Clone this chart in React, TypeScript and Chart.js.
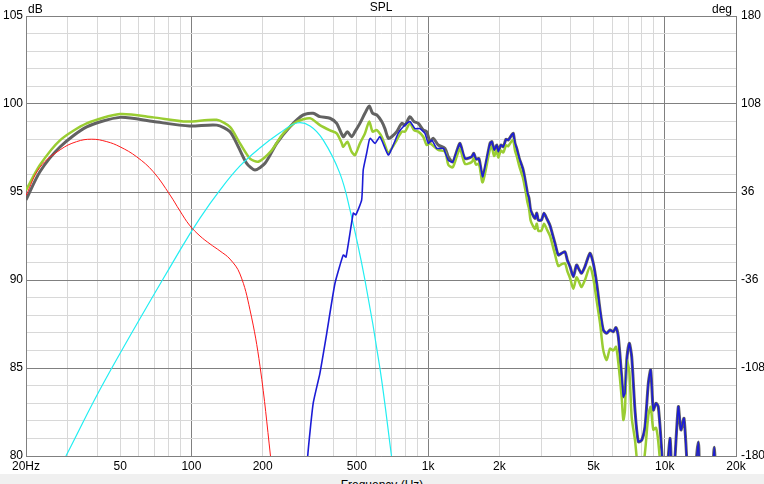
import React, { useEffect, useRef } from "react";
import { Chart, registerables } from "chart.js";

Chart.register(...registerables);

// ---- axis ticks ----
const xTickValues = [20, 30, 40, 50, 60, 70, 80, 90, 100, 200, 300, 400, 500, 600, 700, 800, 900, 1000, 2000, 3000, 4000, 5000, 6000, 7000, 8000, 9000, 10000, 20000];
const xLabelMap: Record<number, string> = { 20: "20Hz", 50: "50", 100: "100", 200: "200", 500: "500", 1000: "1k", 2000: "2k", 5000: "5k", 10000: "10k", 20000: "20k" };
const xMajor = [20, 100, 1000, 10000, 20000];
const yTickValues = [80, 81, 82, 83, 84, 85, 86, 87, 88, 89, 90, 91, 92, 93, 94, 95, 96, 97, 98, 99, 100, 101, 102, 103, 104, 105];
const yLabels = [80, 85, 90, 95, 100, 105];
const degTicks = [-180, -108, -36, 36, 108, 180];

// ---- woofer (red) ----
const redFreq = [20, 22.9, 27.9, 32.7, 37.9, 43.9, 49.9, 58.7, 69, 81.2, 89.5, 98.1, 108.7, 119.8, 132, 145.5, 160.4, 176.8, 195, 216, 232];
const redDb = [94.8, 96.4, 97.4, 97.86, 98.0, 97.86, 97.57, 97.0, 96.15, 94.83, 93.92, 93.12, 92.5, 92.05, 91.65, 91.19, 90.34, 88.3, 85.08, 79.96, 76];

// ---- mid (cyan) ----
const cyanFreq = [29.5, 43.2, 89.5, 108.7, 132, 160.4, 194.5, 236, 279, 317, 360.6, 424, 467.7, 541, 626, 701, 740];
const cyanDb = [80, 84.32, 91.7, 93.52, 95.11, 96.48, 97.5, 98.35, 98.92, 98.75, 97.95, 96.06, 93.98, 90.0, 84.98, 79.96, 77.5];

// ---- tweeter (blue) ----
const blueFreq = [300, 310, 327, 349, 373, 404, 438, 450, 483, 495, 524, 532, 550, 564, 571, 597, 626, 679, 713, 748, 785, 838, 880, 924, 970, 1002, 1037, 1087, 1160, 1217,
  1270, 1320, 1364, 1432, 1528, 1560, 1594, 1640, 1701, 1826, 1860, 1900, 1950, 1980, 2030, 2080, 2134, 2180, 2256, 2290, 2330, 2368, 2430, 2470, 2511, 2540, 2593, 2630, 2670, 2710, 2768, 2830, 2880, 2922, 3010, 3089, 3170, 3275, 3360, 3438, 3550, 3669, 3790, 3875, 3980, 4108, 4240, 4355, 4450, 4600, 4832, 4989, 5158, 5328, 5499, 5682, 5870, 6060, 6221, 6364, 6577, 6683, 6790, 6904, 7083, 7250, 7486, 7732, 7993, 8250, 8521, 8722, 8946, 9186, 9390, 9706, 10000, 10520, 10800, 11410, 11700, 12060, 12500, 13000, 13860, 14300, 15500, 16190, 16600, 17500];
const blueDb = [76, 80, 83.0, 84.7, 86.97, 89.8, 91.42, 91.3, 93.8, 93.7, 94.55, 96.25, 97.2, 97.95, 98.05, 97.76, 98.14, 97.1, 97.67, 98.34, 98.71, 99.0, 98.6, 98.6, 98.33, 97.76, 97.95, 97.48, 97.48, 96.8,
  96.7, 97.3, 97.76, 96.9, 97.0, 97.2, 96.86, 96.9, 95.87, 97.76, 97.86, 97.39, 97.67, 97.29, 97.67, 97.57, 98.0, 97.95, 98.24, 98.33, 97.76, 97.48, 96.9, 96.63, 96.35, 96.06, 95.4, 94.93, 94.64, 93.98, 93.7, 93.5, 93.8, 93.4, 93.4, 93.8, 93.5, 93.1, 92.56, 92.08, 91.42, 91.52, 91.6, 91.14, 90.76, 90.19, 90.85, 90.57, 90.38, 90.76, 91.52, 90.95, 89.8, 88.3, 87.16, 86.97, 87.16, 87.06, 87.3, 86.78, 84.5, 83.37, 83.56, 85.45, 86.4, 85.64, 82.61, 80.81, 80.9, 81.66, 84.13, 84.89, 82.61, 83.0, 82.8, 80.34, 77.5, 81.0, 78, 82.8, 81.48, 82.14, 79.0, 77, 80.8, 77, 77, 80.5, 77, 76];

// ---- total (grey) ----
const grayFreq = [20, 22.9, 27.9, 36.1, 49.9, 69, 98.1, 127.9, 145.5, 157.8, 171.2, 185.6, 204.6, 229.3, 261, 297, 327, 349, 385, 411, 438, 456, 475, 491, 515, 541, 564, 583, 607, 637, 657, 679, 702, 737, 774, 799, 838, 872, 909, 954, 986, 1019, 1052, 1104, 1179, 1217];
const grayDb = [94.55, 96.15, 97.57, 98.7, 99.24, 99.0, 98.75, 98.8, 98.43, 97.57, 96.63, 96.25, 96.63, 97.76, 98.71, 99.38, 99.47, 99.28, 99.19, 98.9, 98.14, 98.43, 98.14, 98.43, 98.9, 99.47, 99.89, 99.47, 99.38, 99.0, 98.6, 98.05, 98.14, 98.43, 98.9, 98.8, 99.28, 99.0, 98.9, 98.52, 98.43, 97.86, 98.05, 97.67, 97.48, 97.0];

// ---- total (green) ----
const greenFreq = [20, 22.9, 27.9, 36.1, 49.9, 69, 95.5, 127.9, 145.5, 160.4, 176.8, 191.7, 216, 244.6, 278.5, 317, 349, 385, 411, 432, 438, 456, 475, 491, 515, 541, 564, 583, 607, 637, 657, 679, 702, 737, 774, 799, 838, 872, 909, 954, 986, 1019, 1104, 1179, 1217,
  1270, 1320, 1364, 1432, 1528, 1560, 1594, 1640, 1701, 1826, 1860, 1900, 1950, 1980, 2030, 2080, 2134, 2180, 2256, 2290, 2330, 2368, 2430, 2470, 2511, 2540, 2593, 2630, 2670, 2710, 2768, 2830, 2880, 2922, 3010, 3089, 3170, 3275, 3360, 3438, 3550, 3669, 3790, 3875, 3980, 4108, 4240, 4355, 4450, 4600, 4832, 4989, 5158, 5328, 5499, 5682, 5870, 6060, 6221, 6364, 6577, 6683, 6790, 6904, 7083, 7250, 7486, 7732, 7993, 8250, 8521, 8722, 8946, 9186, 9390, 9706, 10000, 10520, 11410, 12060, 13000];
const greenDb = [95.1, 96.53, 97.95, 98.9, 99.43, 99.24, 99.0, 99.1, 98.7, 97.76, 96.9, 96.72, 97.29, 98.33, 98.99, 99.19, 98.8, 98.5, 98.33, 97.76, 97.57, 97.86, 97.29, 97.1, 97.76, 98.33, 99.0, 98.43, 98.52, 98.14, 97.67, 97.2, 97.48, 97.95, 98.43, 98.43, 98.9, 98.52, 98.43, 98.14, 97.67, 97.76, 97.39, 97.29, 96.55,
  96.4, 97.0, 97.45, 96.6, 96.7, 96.9, 96.55, 96.6, 95.55, 97.45, 97.55, 97.05, 97.35, 96.95, 97.35, 97.25, 97.65, 97.6, 97.9, 97.95, 97.35, 97.05, 96.45, 96.15, 95.85, 95.55, 94.9, 94.4, 94.05, 93.4, 93.1, 92.9, 93.2, 92.8, 92.8, 93.2, 92.9, 92.5, 91.95, 91.45, 90.8, 90.9, 90.95, 90.5, 90.1, 89.5, 90.15, 89.85, 89.6, 90.0, 90.76, 90.1, 88.8, 87.54, 86.0, 85.45, 86.1, 86.0, 86.2, 85.3, 83.3, 82.05, 82.6, 85.45, 84.8, 82.2, 80.9, 79.2, 79.0, 80.2, 82.3, 82.8, 81.5, 81.6, 80.8, 78.5, 76, 78.5, 79.5, 79, 75];

const pts = (f: number[], d: number[]) => f.map((v, i) => ({ x: v, y: d[i] }));

const MAJOR = "#808080";
const MINOR = "#d8d8d8";
const FONT = { family: "'Liberation Sans', Arial, sans-serif", size: 12 };

const textPlugin = {
  id: "cornerText",
  afterDraw(chart: any) {
    const { ctx, chartArea } = chart;
    ctx.save();
    ctx.fillStyle = "#000";
    ctx.font = "12px 'Liberation Sans', Arial, sans-serif";
    ctx.textBaseline = "alphabetic";
    ctx.textAlign = "left";
    ctx.fillText("dB", chartArea.left + 2, 13);
    ctx.textAlign = "right";
    ctx.fillText("deg", chartArea.right - 4, 13);
    ctx.textAlign = "center";
    ctx.fillText("SPL", (chartArea.left + chartArea.right) / 2, 11);
    ctx.restore();
  },
};

export default function App() {
  const ref = useRef<HTMLCanvasElement>(null);
  useEffect(() => {
    document.body.style.margin = "0";
    if (!ref.current) return;
    const chart = new Chart(ref.current, {
      type: "line",
      data: {
        datasets: [
          { label: "tweeter", data: pts(blueFreq, blueDb), borderColor: "#1c1cd6", borderWidth: 1.6, order: 0, tension: 0.15 },
          { label: "woofer", data: pts(redFreq, redDb), borderColor: "#ff1a1a", borderWidth: 1, order: 1, tension: 0.4 },
          { label: "mid", data: pts(cyanFreq, cyanDb), borderColor: "#22eef2", borderWidth: 1.2, order: 2, tension: 0.4 },
          { label: "sum2", data: pts(greenFreq, greenDb), borderColor: "#9acd32", borderWidth: 2.5, order: 3, tension: 0.25 },
          { label: "sum", data: pts(grayFreq.concat(blueFreq.slice(30)), grayDb.concat(blueDb.slice(30))), borderColor: "#626262", borderWidth: 3, order: 4, tension: 0.25 },
        ].map((d: any) => ({ ...d, pointRadius: 0, fill: false, clip: 0 })),
      },
      options: {
        animation: false,
        responsive: false,
        events: [],
        layout: { padding: { top: 16, left: 0, right: 0, bottom: 0 } },
        plugins: { legend: { display: false }, tooltip: { enabled: false }, title: { display: false } },
        scales: {
          x: {
            type: "logarithmic",
            min: 20,
            max: 20000,
            afterBuildTicks: (s: any) => { s.ticks = xTickValues.map((v) => ({ value: v })); },
            afterFit: (s: any) => { s.height = 18; },
            ticks: {
              autoSkip: false, maxRotation: 0, minRotation: 0, padding: 3, color: "#000", font: FONT,
              callback: (v: any) => xLabelMap[Number(v)] ?? "",
            },
            grid: {
              drawTicks: false,
              color: (c: any) => (xMajor.includes(c.tick?.value) ? MAJOR : MINOR),
              lineWidth: 1,
            },
            border: { display: true, color: MAJOR },
          },
          y: {
            type: "linear",
            position: "left",
            min: 80,
            max: 105,
            afterBuildTicks: (s: any) => { s.ticks = yTickValues.map((v) => ({ value: v })); },
            afterFit: (s: any) => { s.width = 26; },
            ticks: {
              autoSkip: false, padding: 3, color: "#000", font: FONT,
              callback: (v: any) => (yLabels.includes(Number(v)) ? String(v) : ""),
            },
            grid: {
              drawTicks: false,
              color: (c: any) => (c.tick && c.tick.value % 5 === 0 ? MAJOR : MINOR),
              lineWidth: 1,
            },
            border: { display: true, color: MAJOR },
          },
          y2: {
            type: "linear",
            position: "right",
            min: -180,
            max: 180,
            afterBuildTicks: (s: any) => { s.ticks = degTicks.map((v) => ({ value: v })); },
            afterFit: (s: any) => { s.width = 28; },
            ticks: { autoSkip: false, padding: 5, color: "#000", font: FONT },
            grid: { display: false, drawTicks: false },
            border: { display: false },
          },
        },
      },
      plugins: [textPlugin],
    } as any);
    return () => chart.destroy();
  }, []);

  return (
    <div style={{ width: 764, height: 484, background: "#fff", position: "relative", overflow: "hidden" }}>
      <canvas ref={ref} width={764} height={474} style={{ display: "block" }} />
      <div
        style={{
          height: 10,
          background: "#f0f0f0",
          overflow: "hidden",
          textAlign: "center",
          font: "12px 'Liberation Sans', Arial, sans-serif",
          lineHeight: "14px",
          paddingTop: 4,
          boxSizing: "border-box",
          color: "#000",
        }}
      >
        Frequency (Hz)
      </div>
    </div>
  );
}
